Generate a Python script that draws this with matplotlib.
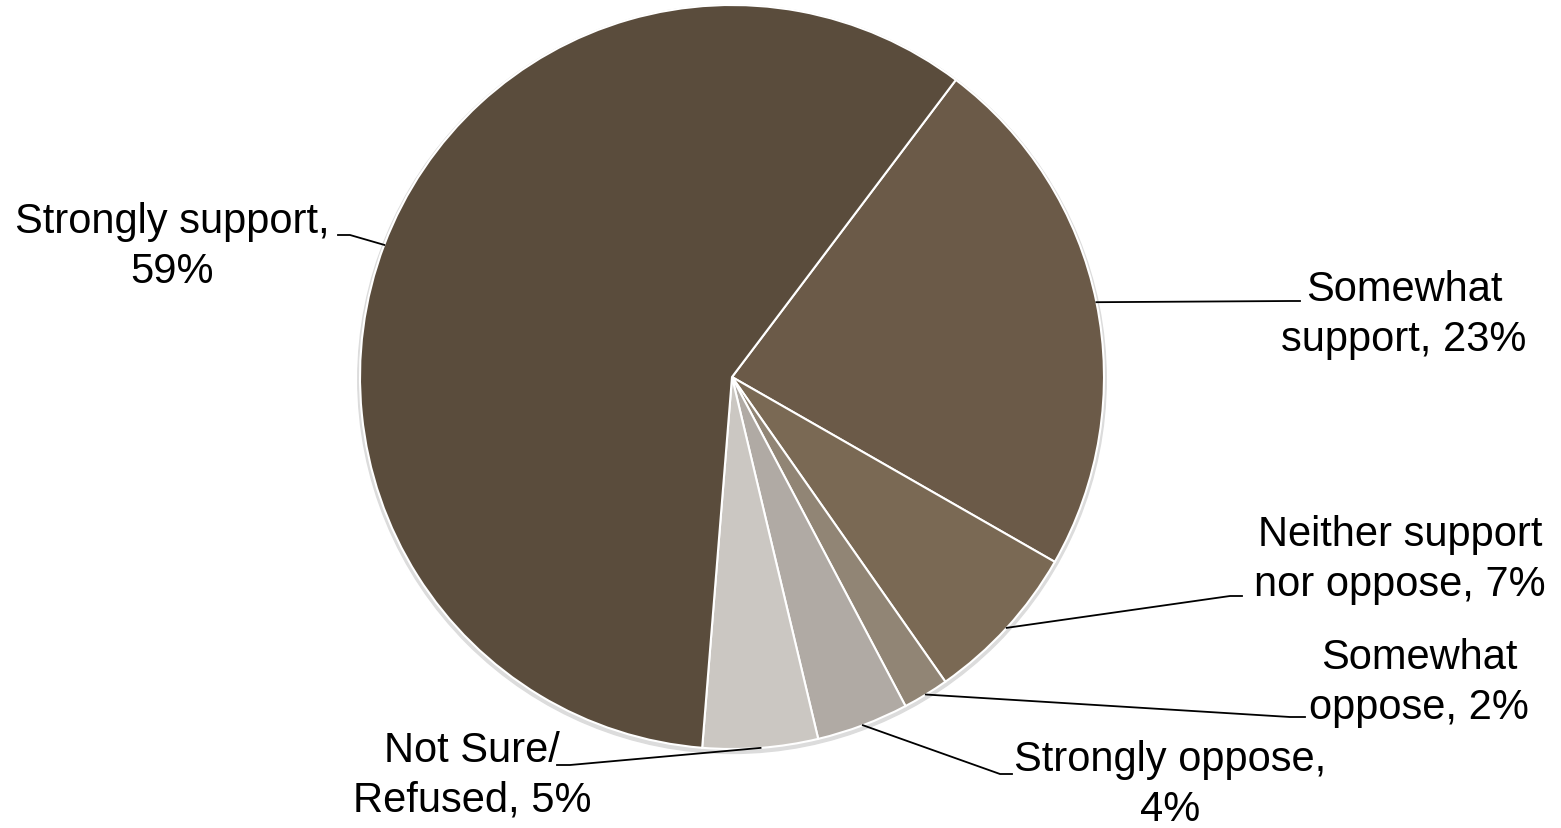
import matplotlib.pyplot as plt
import numpy as np

# data
labels = ['Somewhat\nsupport, 23%', 'Neither support\nnor oppose, 7%', 'Somewhat\noppose, 2%',
          'Strongly oppose,\n4%', 'Not Sure/\nRefused, 5%', 'Strongly support,\n59%']
values = [23, 7, 2, 4, 5, 59]
colors = ['#6B5A48', '#7A6954', '#918575', '#B0AAA4', '#CBC7C2', '#5A4C3C']

W, H = 1561, 829
CX, CY, R = 732, 378, 372


def px(x, y):
    # pixel position -> data coords (pie radius = 1)
    return (x - CX) / R, (CY - y) / R


fig = plt.figure(figsize=(W / 100, H / 100), dpi=100)
ax = fig.add_axes([0, 0, 1, 1])

# faint shadow behind the pie
ax.add_patch(plt.Circle((0.0, -0.006), 1.006, color='#dcdcdc', zorder=0))

wedges, _ = ax.pie(values, colors=colors, startangle=53, counterclock=False,
                   radius=1, center=(0, 0), frame=True,
                   wedgeprops=dict(edgecolor='white', linewidth=1.5))
ax.set_xlim(-CX / R, (W - CX) / R)
ax.set_ylim(-(H - CY) / R, CY / R)
ax.axis('off')

# label layout: (elbow pixel, end pixel, text pixel, ha)
layout = [
    ((1290, 302), (1300, 302), (1404, 315), 'center'),
    ((1230, 597), (1242, 597), (1546, 560), 'right'),
    ((1290, 718), (1305, 718), (1419, 683), 'center'),
    ((1000, 775), (1012, 775), (1170, 785), 'center'),
    ((570, 766), (557, 766), (472, 776), 'center'),
    ((350, 236), (338, 236), (172, 247), 'center'),
]

for w, lab, (elbow, end, tpos, ha) in zip(wedges, labels, layout):
    mid = np.deg2rad((w.theta1 + w.theta2) / 2)
    x0, y0 = np.cos(mid), np.sin(mid)
    ex, ey = px(*elbow)
    nx, ny = px(*end)
    ax.plot([x0, ex, nx], [y0, ey, ny], color='black', lw=1.3, zorder=5)
    tx, ty = px(*tpos)
    ax.text(tx, ty, lab, ha=ha, va='center', multialignment='center',
            fontsize=30, family='Liberation Sans', linespacing=1.3)

fig.savefig('out.png', dpi=100)
